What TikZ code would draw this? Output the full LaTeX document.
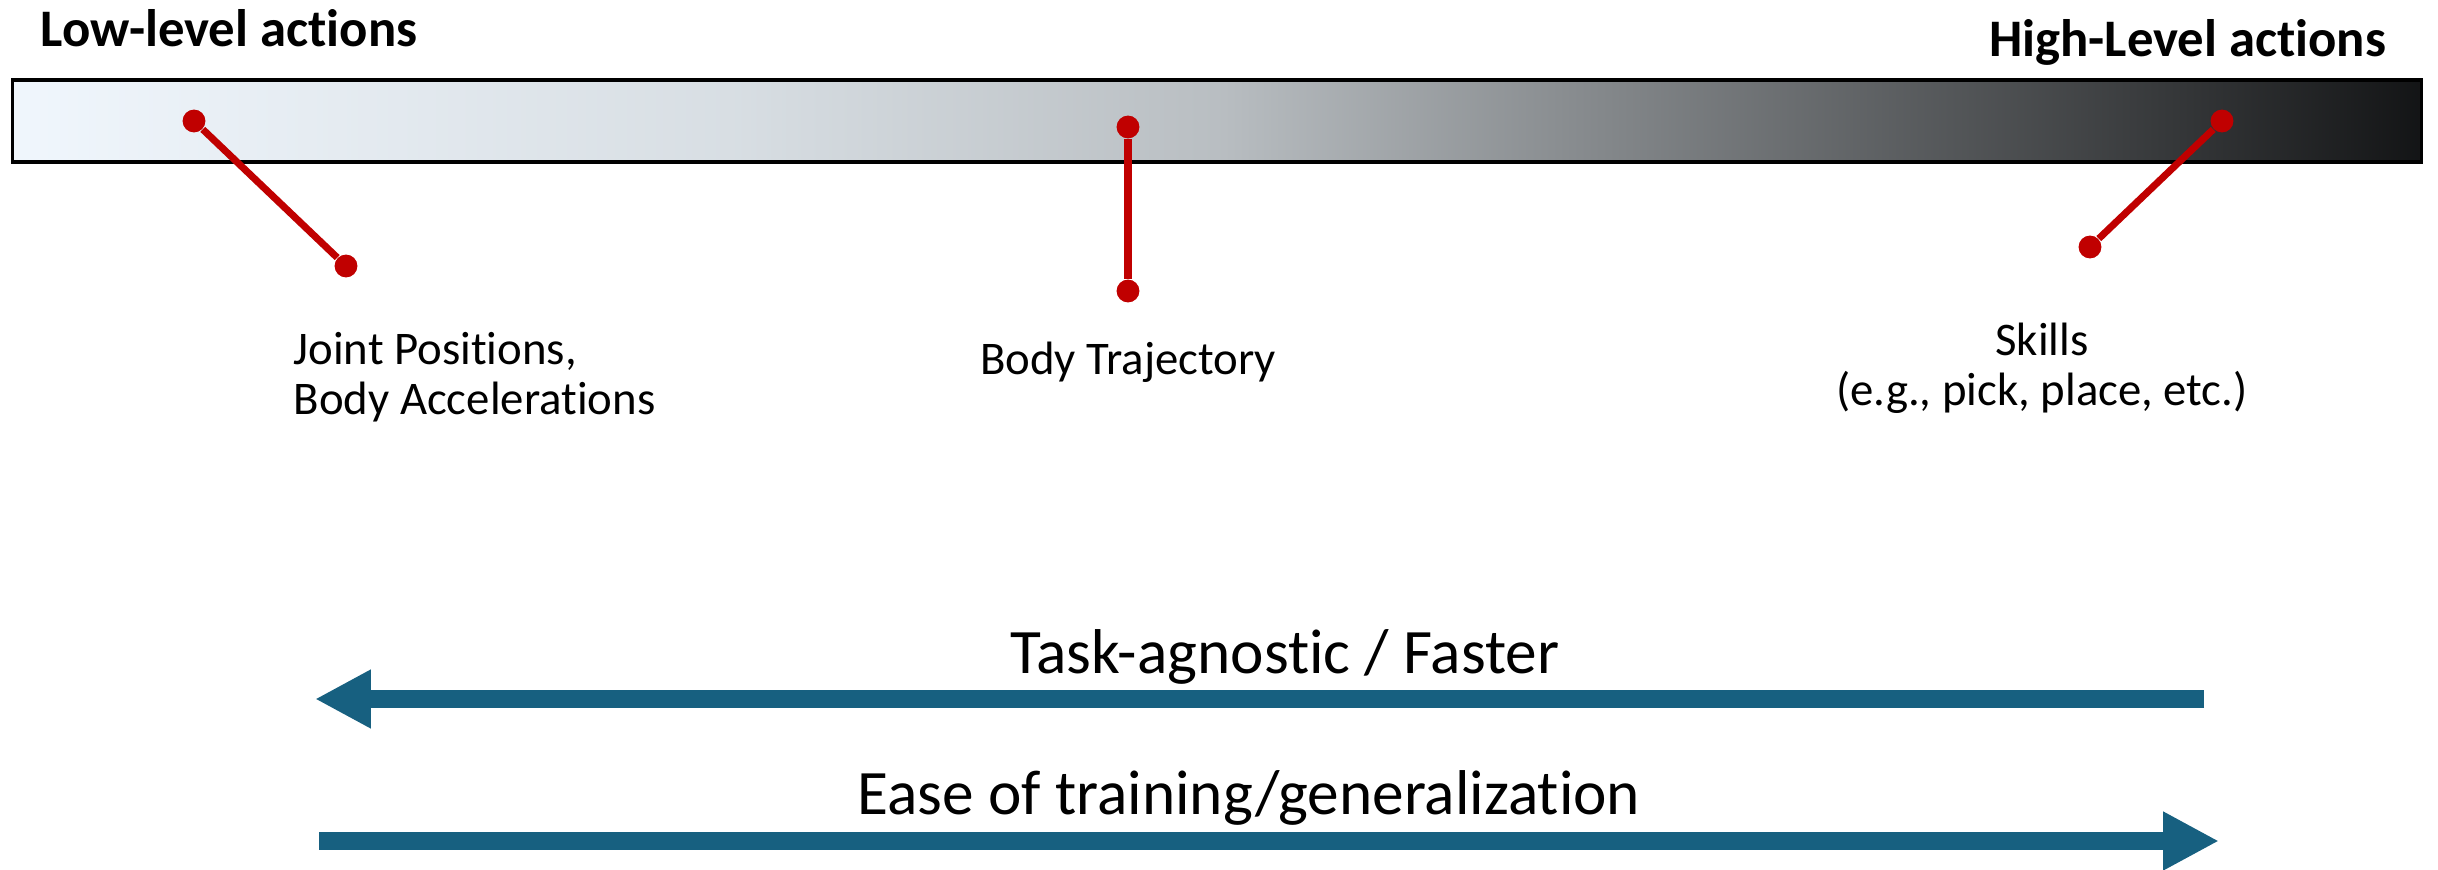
\documentclass[tikz,border=0pt]{standalone}
\usepackage{fontspec}
\setmainfont{Carlito}[Ligatures=NoCommon]
\usetikzlibrary{arrows.meta}
\definecolor{pinred}{RGB}{192,0,0}
\definecolor{flowblue}{RGB}{23,96,128}
% light-to-dark fill of the action scale
\pgfdeclarehorizontalshading{barfade}{100bp}{rgb(0bp)=(0.94,0.965,0.99); rgb(25bp)=(0.94,0.965,0.99); rgb(40bp)=(0.845,0.87,0.89); rgb(50bp)=(0.725,0.745,0.76); rgb(75bp)=(0.075,0.08,0.085); rgb(100bp)=(0.075,0.08,0.085)}

\begin{document}
\begin{tikzpicture}[
    x=0.01cm, y=-0.01cm,
    bar/.style={draw, line width=0.9pt, rectangle, minimum width=24.08cm, minimum height=0.82cm, inner sep=0pt, shade, shading=barfade},
    title/.style={font=\fontsize{15}{18}\selectfont\bfseries, inner sep=0pt},
    levelnote/.style={font=\fontsize{13.3}{14.3}\selectfont, inner sep=0pt},
    reddot/.style={circle, fill=pinred, inner sep=0pt, minimum size=6.5pt},
    link/.style={pinred, line width=2pt},
    flow/.style={flowblue, line width=5.1pt, -{Triangle[length=15.9pt, width=15.6pt]}},
    flowtext/.style={font=\fontsize{18}{21}\selectfont, inner sep=0pt}
]
    \useasboundingbox (0,0) rectangle (2438,870);

    % scale with its two ends
    \node[bar] (bar) at (1217,121) {};
    \node[title, anchor=base west] (lowtitle) at (40,47) {Low-level actions};
    \node[title, anchor=base east] (hightitle) at (2387,57) {High-Level actions};

    % pins from the scale to the action types
    \node[reddot] (joint1) at (194,121) {};
    \node[reddot] (joint2) at (346,266) {};
    \node[reddot] (traj1) at (1128,127) {};
    \node[reddot] (traj2) at (1128,291) {};
    \node[reddot] (skill1) at (2222,121) {};
    \node[reddot] (skill2) at (2090,247) {};
    \draw[link] (joint1) -- (joint2);
    \draw[link] (traj1) -- (traj2);
    \draw[link] (skill1) -- (skill2);

    % base of a two-line note sits on its last line
    \node[levelnote, align=left, anchor=base west] (jointtxt) at (293,415) {Joint Positions,\\Body Accelerations};
    \node[levelnote, anchor=base] (trajtxt) at (1128,375) {Body Trajectory};
    \node[levelnote, align=center, anchor=base] (skilltxt) at (2042,406) {Skills\\(e.g., pick, place, etc.)};

    % trade-off arrows
    \coordinate (fastR) at (2204,699);
    \coordinate (fastL) at (315,699);
    \draw[flow] (fastR) -- (fastL);
    \node[flowtext, anchor=base] (fasttxt) at (1285,673) {Task-agnostic / Faster};

    \coordinate (easeL) at (319,841);
    \coordinate (easeR) at (2219,841);
    \draw[flow] (easeL) -- (easeR);
    \node[flowtext, anchor=base] (easetxt) at (1249,814) {Ease of training/generalization};
\end{tikzpicture}
\end{document}
